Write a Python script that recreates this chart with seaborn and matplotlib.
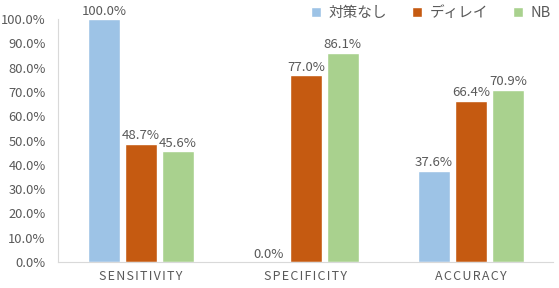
import numpy as np
import pandas as pd
import seaborn as sns
from matplotlib import pyplot as plt
from matplotlib.ticker import PercentFormatter

metrics = ['SENSITIVITY', 'SPECIFICITY', 'ACCURACY']
methods = ['対策なし', 'ディレイ', 'NB']
none_vals = [1.000, 0.000, 0.376]
delay_vals = [0.487, 0.770, 0.664]
nb_vals = [0.456, 0.861, 0.709]
colors = ['#9DC3E6', '#C55A11', '#A9D18E']

sns.set_theme(style='white')
plt.rcParams['font.family'] = ['Noto Sans CJK JP', 'DejaVu Sans']

df = pd.DataFrame({
    'metric': metrics * 3,
    'method': [m for m in methods for _ in metrics],
    'value': none_vals + delay_vals + nb_vals,
})

fig = plt.figure(figsize=(5.59, 2.88), dpi=100)
ax = fig.add_axes([0.104, 0.090, 0.886, 0.844])
sns.barplot(data=df, x='metric', y='value', hue='method', hue_order=methods,
            palette=colors, width=0.67, gap=0.13, saturation=1, ax=ax,
            errorbar=None)

grey = '#595959'
for cont in ax.containers:
    ax.bar_label(cont, labels=[f'{v * 100:.1f}%' for v in cont.datavalues],
                 color=grey, fontsize=9.5, padding=1)

ax.set_ylim(0, 1.0)
ax.set_yticks(np.arange(0, 1.01, 0.1))
ax.yaxis.set_major_formatter(PercentFormatter(1.0, decimals=1))
ax.set_xlabel('')
ax.set_ylabel('')
# wide letter spacing on the category labels
spaced = ['\u200a'.join(m) for m in metrics]
ax.set_xticks(range(len(metrics)))
ax.set_xticklabels(spaced)
ax.tick_params(axis='y', labelsize=9.3, colors=grey, length=3, width=0.8,
               color='#D9D9D9', pad=6)
ax.tick_params(axis='x', labelsize=9, colors=grey, length=0, pad=6)
for s in ['top', 'right']:
    ax.spines[s].set_visible(False)
for s in ['left', 'bottom']:
    ax.spines[s].set_color('#D9D9D9')
    ax.spines[s].set_linewidth(0.8)

ax.get_legend().remove()
handles, labels = ax.get_legend_handles_labels()
leg = fig.legend(handles, labels, ncol=3, frameon=False, loc='center right',
                 bbox_to_anchor=(1.008, 0.955), fontsize=10.5, handlelength=0.7,
                 handleheight=0.7, handletextpad=0.5, columnspacing=1.7)
for t in leg.get_texts():
    t.set_color(grey)

fig.savefig('out.png', dpi=100)
